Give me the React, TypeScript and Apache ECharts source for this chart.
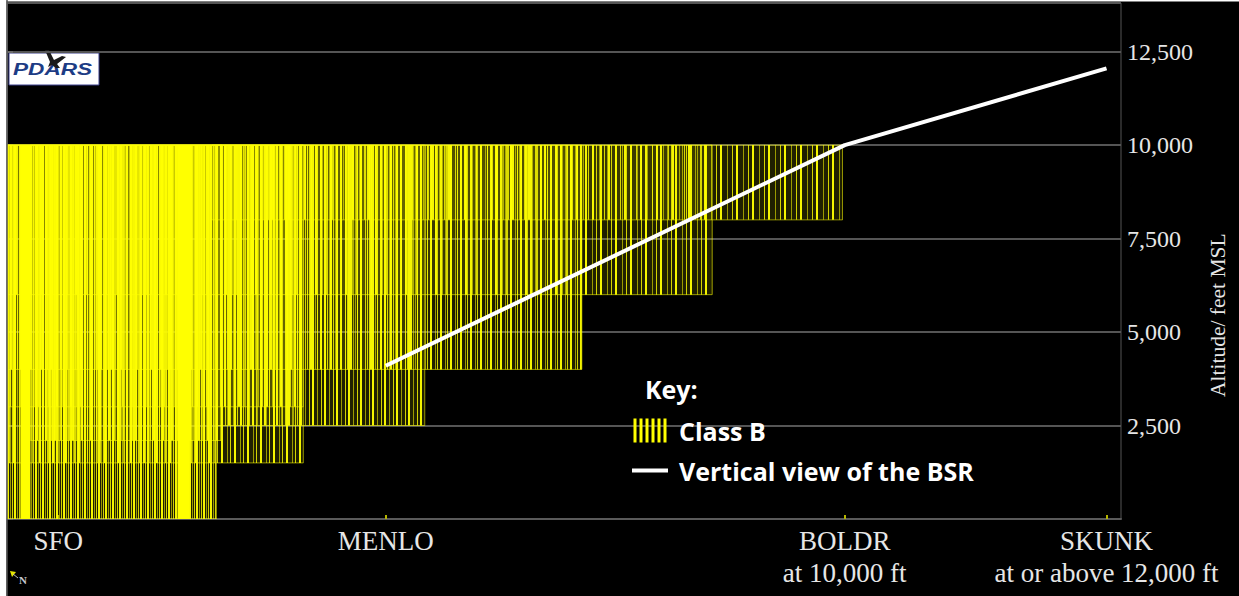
import React, { useEffect, useRef } from "react";
import * as echarts from "echarts";

// ---------- data ----------
const waypointNames = ["SFO", "MENLO", "BOLDR", "SKUNK"];
const waypointSubLabels = ["", "", "at 10,000 ft", "at or above 12,000 ft"];
const waypointDistance = [4.6, 34.0, 75.2, 98.7];

// BSR vertical profile (waypoint index -> altitude, ft MSL)
const bsrWaypointIndex = [1, 2, 3];
const bsrAltitude = [4100, 10000, 12050];

// Class B shelves (projected onto the route), distance units along track
const shelfStart = [0, 0, 2.1, 0, 18.8, 0, 0, 18.4];
const shelfEnd = [18.8, 26.6, 19.3, 26.6, 37.5, 51.6, 63.3, 75.0];
const shelfFloor = [0, 1500, 2100, 3000, 2500, 4000, 6000, 8000];
const shelfCeiling = [10000, 10000, 10000, 10000, 10000, 10000, 10000, 10000];

// densest overlapping parts of the surface area
const coreStart = [1.2, 15.3];
const coreEnd = [2.1, 16.4];
const coreFloor = [0, 0];
const coreCeiling = [10000, 10000];

const yMin = 0;
const yMax = 13800;
const yInterval = 2500;
const xMin = 0;
const xMax = 100;

// ---------- styles ----------
const hatchPeriods = [7, 13, 9, 14, 12, 10, 15, 16];

function hatchPattern(period: number) {
  const c = document.createElement("canvas");
  c.width = period;
  c.height = 4;
  const ctx = c.getContext("2d")!;
  const lines: [number, number, number][] = [
    [0, 2, 0.95],
    [Math.round(period * 0.45), 1, 0.55],
    [Math.round(period * 0.72), 1, 0.8],
  ];
  for (const [o, w, a] of lines) {
    ctx.fillStyle = `rgba(255,255,0,${a})`;
    ctx.fillRect(o, 0, w, 4);
  }
  return { image: c.toDataURL(), repeat: "repeat", imageWidth: period, imageHeight: 4 };
}

export default function App() {
  const ref = useRef<HTMLDivElement>(null);

  useEffect(() => {
    if (!ref.current) return;
    const chart = echarts.init(ref.current, undefined, { renderer: "svg" });
    const patterns = hatchPeriods.map((p) => hatchPattern(p));

    const shelfData = shelfStart.map((s, i) => [s, shelfEnd[i], shelfFloor[i], shelfCeiling[i]]);
    const coreData = coreStart.map((s, i) => [s, coreEnd[i], coreFloor[i], coreCeiling[i]]);
    const bsrData = bsrWaypointIndex.map((w, i) => [waypointDistance[w], bsrAltitude[i]]);

    const rectOf = (api: any) => {
      const p0 = api.coord([api.value(0), api.value(3)]);
      const p1 = api.coord([api.value(1), api.value(2)]);
      return { x: p0[0], y: p0[1], width: p1[0] - p0[0], height: p1[1] - p0[1] };
    };

    const serif = "'Liberation Serif', 'Times New Roman', serif";
    const sans = "'Open Sans', 'Noto Sans', sans-serif";

    chart.setOption({
      animation: false,
      backgroundColor: "#000",
      grid: { left: 7, right: 118, top: 3, bottom: 77, show: true, borderColor: "#555", borderWidth: 1, backgroundColor: "#000" },
      xAxis: {
        type: "value",
        min: xMin,
        max: xMax,
        axisLine: { show: true, lineStyle: { color: "#5a5a5a", width: 2 } },
        axisTick: { show: true, inside: true, length: 4, customValues: waypointDistance, lineStyle: { color: "#b5b500", width: 2 } },
        axisLabel: {
          customValues: waypointDistance,
          formatter: (v: number) => {
            const i = waypointDistance.findIndex((d) => Math.abs(d - v) < 1e-6);
            if (i < 0) return "";
            return waypointSubLabels[i] ? waypointNames[i] + "\n" + waypointSubLabels[i] : waypointNames[i];
          },
          color: "#e6e6e6",
          fontSize: 27,
          fontFamily: serif,
          lineHeight: 32,
          margin: 6,
        },
        splitLine: { show: false },
      },
      yAxis: {
        type: "value",
        position: "right",
        min: yMin,
        max: yMax,
        interval: yInterval,
        axisLine: { show: true, lineStyle: { color: "#6a6a6a", width: 2 } },
        axisTick: { show: true, length: 6, lineStyle: { color: "#6a6a6a", width: 2 } },
        axisLabel: {
          color: "#e6e6e6",
          fontSize: 24,
          fontFamily: serif,
          margin: 6,
          showMaxLabel: false,
          formatter: (v: number) => (v === 0 ? "" : v.toLocaleString("en-US")),
        },
        splitLine: { show: true, lineStyle: { color: "#555", width: 2 } },
      },
      legend: {
        orient: "vertical",
        left: 632,
        top: 418,
        padding: 0,
        itemWidth: 36,
        itemHeight: 24,
        itemGap: 15,
        selectedMode: false,
        textStyle: { color: "#fff", fontSize: 25, fontWeight: "bold", fontFamily: sans, lineHeight: 24, padding: [0, 0, 0, 6] },
        data: [
          {
            name: "Class B",
            icon: "path://M0 0h3v24h-3z M6 0h3v24h-3z M12 0h3v24h-3z M18 0h3v24h-3z M24 0h3v24h-3z M30 0h3v24h-3z",
            itemStyle: { color: "#ffff00" },
          },
          { name: "Vertical view of the BSR", icon: "path://M0 0h36v4h-36z", itemStyle: { color: "#ffffff" } },
        ],
      },
      graphic: {
        elements: [
          { type: "rect", shape: { x: 0, y: 0, width: 6.5, height: 596 }, style: { fill: "#fff" }, z: 100 },
          { type: "rect", shape: { x: 0, y: 0, width: 1239, height: 1.5 }, style: { fill: "#fff" }, z: 100 },
          { type: "line", shape: { x1: 7, y1: 0, x2: 7, y2: 596 }, style: { stroke: "#555", lineWidth: 1.5 }, z: 100 },
          {
            type: "group",
            x: 9,
            y: 53,
            z: 100,
            children: [
              { type: "rect", shape: { x: 0, y: 0, width: 90, height: 32 }, style: { fill: "#fff", stroke: "#3b3f8c", lineWidth: 1 } },
              {
                type: "text",
                x: 4,
                y: 8,
                scaleX: 1.33,
                style: { text: "PDARS", font: "italic 900 17px 'Liberation Sans', sans-serif", fill: "#1d3c85" },
              },
              {
                type: "polygon",
                shape: { points: [[36, -3], [40, -3], [45, 7], [53, 3], [57, 4], [48, 11], [51, 15], [47, 15], [43, 12], [39, 14], [41, 9]] },
                style: { fill: "#1a1a1a" },
              },
            ],
          },
          {
            type: "text",
            x: 645,
            y: 389,
            style: { text: "Key:", font: "bold 25px " + sans, fill: "#fff", verticalAlign: "middle" },
            z: 100,
          },
          {
            type: "text",
            x: 1207,
            y: 397,
            rotation: Math.PI / 2,
            style: { text: "Altitude/ feet MSL", font: "21.5px " + serif, fill: "#e6e6e6" },
            z: 100,
          },
          { type: "polygon", shape: { points: [[10, 571], [16, 572], [12, 577]] }, style: { fill: "#e6e600" }, z: 100 },
          { type: "line", shape: { x1: 13, y1: 574, x2: 18, y2: 578 }, style: { stroke: "#bbb", lineWidth: 1 }, z: 100 },
          { type: "text", x: 19, y: 574, style: { text: "N", font: "bold 11px " + serif, fill: "#c8c8d0" }, z: 100 },
        ],
      },
      series: [
        {
          type: "custom",
          name: "Class B",
          clip: true,
          encode: { x: [0, 1], y: [2, 3] },
          data: shelfData,
          renderItem: (params: any, api: any) => {
            const r = rectOf(api);
            return {
              type: "group",
              children: [
                { type: "rect", shape: r, style: { fill: "rgba(255,255,0,0.12)", stroke: "rgba(255,255,0,0.55)", lineWidth: 1 } },
                { type: "rect", shape: r, style: { fill: patterns[params.dataIndex % patterns.length] } },
              ],
            };
          },
        },
        {
          type: "custom",
          name: "Class B",
          clip: true,
          encode: { x: [0, 1], y: [2, 3] },
          data: coreData,
          renderItem: (_params: any, api: any) => ({ type: "rect", shape: rectOf(api), style: { fill: "#ffff00" } }),
        },
        {
          type: "line",
          name: "Vertical view of the BSR",
          data: bsrData,
          symbol: "none",
          lineStyle: { color: "#fff", width: 4 },
          itemStyle: { color: "#fff" },
          z: 5,
        },
      ],
    });

    return () => chart.dispose();
  }, []);

  return <div ref={ref} style={{ position: "absolute", left: 0, top: 0, width: 1239, height: 596 }} />;
}
